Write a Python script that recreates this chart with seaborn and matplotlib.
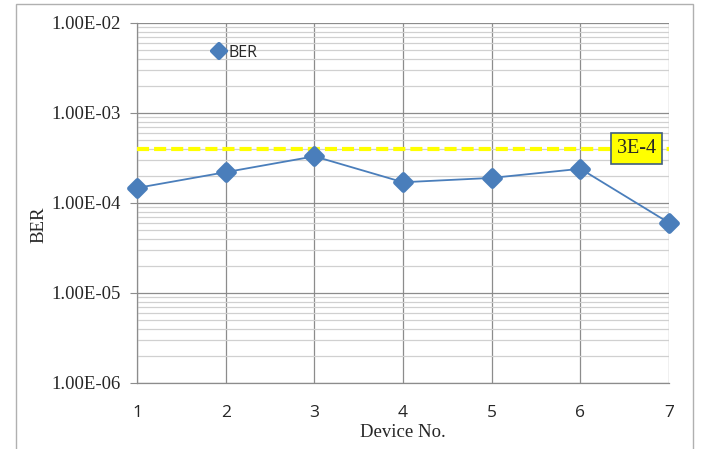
import matplotlib
matplotlib.use("Agg")
import matplotlib.pyplot as plt
import seaborn as sns
import pandas as pd
from matplotlib.patches import Rectangle
from matplotlib.markers import MarkerStyle
from matplotlib.ticker import LogLocator, FixedLocator, NullFormatter

devices = [1, 2, 3, 4, 5, 6, 7]
ber = [1.47e-4, 2.2e-4, 3.3e-4, 1.7e-4, 1.9e-4, 2.4e-4, 6.0e-5]
threshold = 4.0e-4
threshold_label = "3E-4"
ytick_vals = [1e-6, 1e-5, 1e-4, 1e-3, 1e-2]
ytick_labels = ["1.00E-06", "1.00E-05", "1.00E-04", "1.00E-03", "1.00E-02"]

df = pd.DataFrame({"Device No.": devices, "BER": ber})

sns.set_style("white")
fig = plt.figure(figsize=(7.02, 4.49), dpi=100)
ax = fig.add_axes([0.1952, 0.147, 0.758, 0.8018])

blue = "#4A7EBB"
mk = MarkerStyle("D", joinstyle="round")
sns.lineplot(data=df, x="Device No.", y="BER", ax=ax, color=blue, lw=1.3,
             marker=mk, markersize=8.5, markeredgecolor=blue, markeredgewidth=3.5,
             label="BER", zorder=5, clip_on=False)

ax.axhline(threshold, color="#FFFF00", lw=3, ls=(0, (2.9, 1.2)), zorder=4)

ax.set_yscale("log")
ax.set_ylim(1e-6, 1e-2)
ax.set_xlim(1, 7)
ax.yaxis.set_major_locator(FixedLocator(ytick_vals))
ax.set_yticklabels(ytick_labels, fontfamily="Liberation Serif", fontsize=13.5)
ax.yaxis.set_minor_locator(LogLocator(base=10, subs=[2, 3, 4, 5, 6, 7, 8, 9], numticks=20))
ax.yaxis.set_minor_formatter(NullFormatter())
ax.set_xticks(devices)
ax.set_xticklabels([str(d) for d in devices], fontfamily="Open Sans", fontsize=12.5)

ax.grid(True, which="major", axis="both", color="#8C8C8C", lw=0.9)
ax.grid(True, which="minor", axis="y", color="#D0D0D0", lw=0.9)
ax.set_axisbelow(True)

for s in ["top", "right"]:
    ax.spines[s].set_visible(False)
for s in ["left", "bottom"]:
    ax.spines[s].set_color("#8C8C8C")
    ax.spines[s].set_linewidth(0.9)

ax.tick_params(axis="y", which="major", length=5, color="#8C8C8C", left=True, pad=7)
ax.tick_params(axis="y", which="minor", length=0)
ax.tick_params(axis="x", length=0, pad=16)

ax.set_xlabel("Device No.", fontfamily="Liberation Serif", fontsize=13.5, labelpad=2)
ax.set_ylabel("BER", fontfamily="Liberation Serif", fontsize=13.5)
ax.yaxis.set_label_coords(-0.168, 0.439)

leg = ax.legend(loc="upper left", bbox_to_anchor=(0.115, 0.975), frameon=False,
                handlelength=1.0, handletextpad=0.1, borderpad=0.3,
                prop={"family": "Open Sans", "size": 11.5})
for h in leg.get_lines():
    h.set_markersize(7)
    h.set_markeredgewidth(3)

ax.text(6.63, threshold, threshold_label, fontfamily="Liberation Serif", fontsize=14.5,
        va="center", ha="center", zorder=6,
        bbox=dict(boxstyle="square,pad=0.3", fc="#FFFF00", ec="#3F5F7F", lw=1.2))

fig.patches.append(Rectangle((16 / 702, -0.01), (693 - 16) / 702, 1 - 4 / 449 + 0.01,
                             transform=fig.transFigure, fill=False, ec="#B0B0B0", lw=1))

fig.savefig("out.png", dpi=100)
